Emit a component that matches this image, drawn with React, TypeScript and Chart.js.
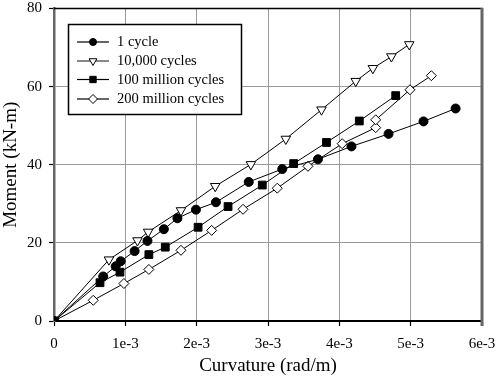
import React, { useEffect, useRef } from "react";
import { Chart, registerables } from "chart.js";

Chart.register(...registerables);

// Curvature in units of 1e-3 rad/m, Moment in kN-m
const oneCycleX = [0, 0.69, 0.865, 0.935, 1.13, 1.31, 1.54, 1.73, 1.99, 2.27, 2.73, 3.2, 3.7, 4.17, 4.69, 5.18, 5.63];
const oneCycleY = [0, 11.4, 14.0, 15.3, 17.9, 20.5, 23.5, 26.3, 28.5, 30.4, 35.6, 38.9, 41.4, 44.7, 47.9, 51.1, 54.4];

const tenKX = [0, 0.77, 1.17, 1.32, 1.78, 2.26, 2.76, 3.25, 3.75, 4.23, 4.47, 4.73, 4.98];
const tenKY = [0, 15.7, 20.6, 22.8, 28.3, 34.5, 40.1, 46.6, 54.1, 61.4, 64.7, 67.7, 70.8];

const hundredMX = [0, 0.645, 0.925, 1.33, 1.56, 2.02, 2.44, 2.92, 3.36, 3.82, 4.28, 4.79];
const hundredMY = [0, 9.8, 12.5, 17.0, 18.9, 24.0, 29.3, 34.8, 40.3, 45.7, 51.2, 57.7];

const twoHundredMX = [0, 0.55, 0.98, 1.33, 1.78, 2.21, 2.65, 3.13, 3.56, 4.04, 4.51, 4.51, 4.99, 5.29];
const twoHundredMY = [0, 5.3, 9.6, 13.2, 18.1, 23.2, 28.6, 34.0, 39.6, 45.4, 49.5, 51.5, 59.2, 62.8];

const seriesNames = ["1 cycle", "10,000 cycles", "100 million cycles", "200 million cycles"];
const xTickLabels = ["0", "1e-3", "2e-3", "3e-3", "4e-3", "5e-3", "6e-3"];
const xTitle = "Curvature (rad/m)";
const yTitle = "Moment (kN-m)";

const FONT = "'Liberation Serif', 'Times New Roman', serif";

const toPoints = (xs: number[], ys: number[]) => xs.map((x, i) => ({ x: x / 1000, y: ys[i] }));

const markerStyles = [
  { pointStyle: "circle", fill: "#000", rotation: 0, radius: 4.5, legendRadius: 3.5 },
  { pointStyle: "triangle", fill: "#fff", rotation: 180, radius: 5.5, legendRadius: 4.5 },
  { pointStyle: "rect", fill: "#000", rotation: 0, radius: 5.5, legendRadius: 4.5 },
  { pointStyle: "rectRot", fill: "#fff", rotation: 0, radius: 5, legendRadius: 4.5 },
];

function drawMarker(ctx: CanvasRenderingContext2D, style: string, r: number, rot: number, x: number, y: number) {
  ctx.beginPath();
  if (style === "circle") {
    ctx.arc(x, y, r, 0, Math.PI * 2);
  } else if (style === "triangle") {
    let a = (rot * Math.PI) / 180;
    ctx.moveTo(x + Math.sin(a) * r, y - Math.cos(a) * r);
    a += (2 * Math.PI) / 3;
    ctx.lineTo(x + Math.sin(a) * r, y - Math.cos(a) * r);
    a += (2 * Math.PI) / 3;
    ctx.lineTo(x + Math.sin(a) * r, y - Math.cos(a) * r);
    ctx.closePath();
  } else if (style === "rect") {
    const s = Math.SQRT1_2 * r;
    ctx.rect(x - s, y - s, 2 * s, 2 * s);
  } else {
    ctx.moveTo(x - r, y);
    ctx.lineTo(x, y - r);
    ctx.lineTo(x + r, y);
    ctx.lineTo(x, y + r);
    ctx.closePath();
  }
  ctx.fill();
  ctx.stroke();
}

const framePlugin = {
  id: "frame",
  afterDraw(chart: any) {
    const { ctx, chartArea } = chart;
    const { left, right, top, bottom } = chartArea;
    ctx.save();
    // top border
    ctx.strokeStyle = "#000";
    ctx.lineWidth = 1.5;
    ctx.beginPath();
    ctx.moveTo(left, top);
    ctx.lineTo(right + 1, top);
    ctx.stroke();
    // right border
    ctx.strokeStyle = "#666";
    ctx.lineWidth = 3;
    ctx.beginPath();
    ctx.moveTo(right, top - 0.5);
    ctx.lineTo(right, bottom + 5);
    ctx.stroke();

    // axis titles
    ctx.fillStyle = "#000";
    ctx.font = `19px ${FONT}`;
    ctx.textAlign = "center";
    ctx.textBaseline = "middle";
    ctx.fillText(xTitle, (left + right) / 2, 366.5);
    ctx.save();
    ctx.translate(11.5, (top + bottom) / 2);
    ctx.rotate(-Math.PI / 2);
    ctx.fillText(yTitle, 0, 0);
    ctx.restore();

    // legend
    const bx = 68.5, by = 24.5, bw = 173, bh = 90;
    ctx.fillStyle = "#fff";
    ctx.fillRect(bx, by, bw, bh);
    ctx.strokeStyle = "#000";
    ctx.lineWidth = 1.5;
    ctx.strokeRect(bx, by, bw, bh);
    const rows = [42, 61, 79.5, 99];
    ctx.font = `14.5px ${FONT}`;
    ctx.textAlign = "left";
    seriesNames.forEach((name, i) => {
      const y = rows[i];
      ctx.strokeStyle = i === 1 ? "#888" : "#000";
      ctx.lineWidth = i === 1 ? 2 : 1.2;
      ctx.beginPath();
      ctx.moveTo(77, y);
      ctx.lineTo(109, y);
      ctx.stroke();
      const m = markerStyles[i];
      ctx.fillStyle = m.fill;
      ctx.strokeStyle = "#000";
      ctx.lineWidth = 1;
      drawMarker(ctx, m.pointStyle, m.legendRadius, m.rotation, 93, y);
      ctx.fillStyle = "#000";
      ctx.fillText(name, 117, y + 0.5);
    });
    ctx.restore();
  },
};

export default function App() {
  const ref = useRef<HTMLCanvasElement | null>(null);

  useEffect(() => {
    if (!ref.current) return;
    const allData = [
      toPoints(oneCycleX, oneCycleY),
      toPoints(tenKX, tenKY),
      toPoints(hundredMX, hundredMY),
      toPoints(twoHundredMX, twoHundredMY),
    ];
    const datasets = allData.map((d, i) => {
      const m = markerStyles[i];
      return {
        label: seriesNames[i],
        data: d,
        borderColor: "#000",
        borderWidth: 1,
        backgroundColor: m.fill,
        pointStyle: m.pointStyle,
        pointRotation: m.rotation,
        pointRadius: m.radius,
        pointBackgroundColor: m.fill,
        pointBorderColor: "#000",
        pointBorderWidth: 1,
        showLine: true,
        tension: 0,
        fill: false,
      };
    });

    const chart = new Chart(ref.current, {
      type: "scatter",
      data: { datasets } as any,
      options: {
        animation: false,
        responsive: false,
        devicePixelRatio: 1,
        layout: { padding: { top: 8.5, right: 18, left: 0, bottom: 0 } },
        plugins: { legend: { display: false }, tooltip: { enabled: false } },
        scales: {
          x: {
            type: "linear",
            min: 0,
            max: 0.006,
            afterFit: (s: any) => {
              s.height = 58;
              s.paddingLeft = 0;
              s.paddingRight = 0;
            },
            afterBuildTicks: (s: any) => {
              s.ticks = xTickLabels.map((_, i) => ({ value: i / 1000 }));
            },
            ticks: {
              callback: (_v: any, i: number) => xTickLabels[i],
              font: { family: FONT, size: 15 },
              color: "#000",
              padding: 9,
              maxRotation: 0,
              autoSkip: false,
            },
            grid: {
              color: "#999",
              lineWidth: 1,
              borderDash: [1, 3],
              tickLength: 5,
              tickColor: "#000",
              tickBorderDash: [],
              tickWidth: 1.2,
            } as any,
            border: { color: "#000", width: 2 },
          },
          y: {
            min: 0,
            max: 80,
            afterFit: (s: any) => {
              s.width = 54;
              s.paddingTop = 0;
              s.paddingBottom = 0;
            },
            ticks: {
              stepSize: 20,
              font: { family: FONT, size: 15 },
              color: "#000",
              padding: 7,
            },
            grid: {
              color: "#999",
              lineWidth: 1,
              borderDash: [1, 3],
              tickLength: 5,
              tickColor: "#000",
              tickBorderDash: [],
              tickWidth: 1.2,
            } as any,
            border: { color: "#666", width: 2.5 },
          },
        },
      } as any,
      plugins: [framePlugin],
    });
    return () => chart.destroy();
  }, []);

  return (
    <div style={{ position: "fixed", left: 0, top: 0, width: 500, height: 379, background: "#fff" }}>
      <canvas ref={ref} width={500} height={379} style={{ width: 500, height: 379, display: "block" }} />
    </div>
  );
}
